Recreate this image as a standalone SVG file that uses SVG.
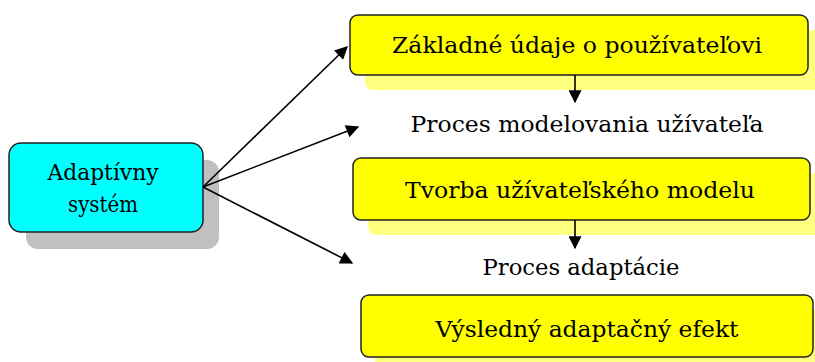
<svg xmlns="http://www.w3.org/2000/svg" width="815" height="362" viewBox="0 0 815 362">
<defs>
<style>
.t{font-family:"DejaVu Serif","Liberation Serif",serif;font-size:22px;fill:#000;text-anchor:middle}
.box{fill:#ffff00;stroke:#222;stroke-width:1.5}
.sh{fill:#ffff80}
.conn{stroke:#000;stroke-width:1.6;fill:none;marker-end:url(#ah)}
</style>
<marker id="ah" viewBox="0 0 10 10" refX="9" refY="5" markerWidth="15" markerHeight="13" markerUnits="userSpaceOnUse" orient="auto">
<path d="M0,0 L10,5 L0,10 z" fill="#000"/>
</marker>
</defs>
<rect width="815" height="362" fill="#fff"/>
<g id="adaptivny">
<rect x="26" y="160" width="193" height="89" rx="12" fill="#c0c0c0"/>
<rect x="9" y="143" width="194" height="89" rx="12" fill="#00ffff" stroke="#222" stroke-width="1.5"/>
<text class="t" x="103" y="180" textLength="111" lengthAdjust="spacingAndGlyphs">Adaptívny</text>
<text class="t" x="103" y="212" textLength="70" lengthAdjust="spacingAndGlyphs">systém</text>
</g>
<g id="zakladne">
<rect class="sh" x="365" y="30" width="460" height="60" rx="8"/>
<rect class="box" x="350" y="15" width="458" height="60" rx="8"/>
<text class="t" x="577" y="53" textLength="370" lengthAdjust="spacingAndGlyphs">Základné údaje o používateľovi</text>
</g>
<g id="proces-modelovania">
<text class="t" x="587" y="132" textLength="353" lengthAdjust="spacingAndGlyphs">Proces modelovania užívateľa</text>
</g>
<g id="tvorba">
<rect class="sh" x="368" y="173" width="460" height="62" rx="8"/>
<rect class="box" x="353" y="158" width="457" height="62" rx="8"/>
<text class="t" x="580" y="198" textLength="350" lengthAdjust="spacingAndGlyphs">Tvorba užívateľského modelu</text>
</g>
<g id="proces-adaptacie">
<text class="t" x="581" y="275" textLength="197" lengthAdjust="spacingAndGlyphs">Proces adaptácie</text>
</g>
<g id="vysledny">
<rect class="sh" x="375" y="310" width="460" height="62" rx="8"/>
<rect class="box" x="361" y="295" width="452" height="62" rx="8"/>
<text class="t" x="587" y="337" textLength="303" lengthAdjust="spacingAndGlyphs">Výsledný adaptačný efekt</text>
</g>
<g id="connectors">
<line class="conn" x1="203" y1="187" x2="347" y2="47"/>
<line class="conn" x1="203" y1="187" x2="358" y2="127"/>
<line class="conn" x1="203" y1="187" x2="352" y2="263"/>
<line class="conn" x1="575" y1="75" x2="575" y2="102"/>
<line class="conn" x1="575" y1="220" x2="575" y2="248"/>
</g>
</svg>
